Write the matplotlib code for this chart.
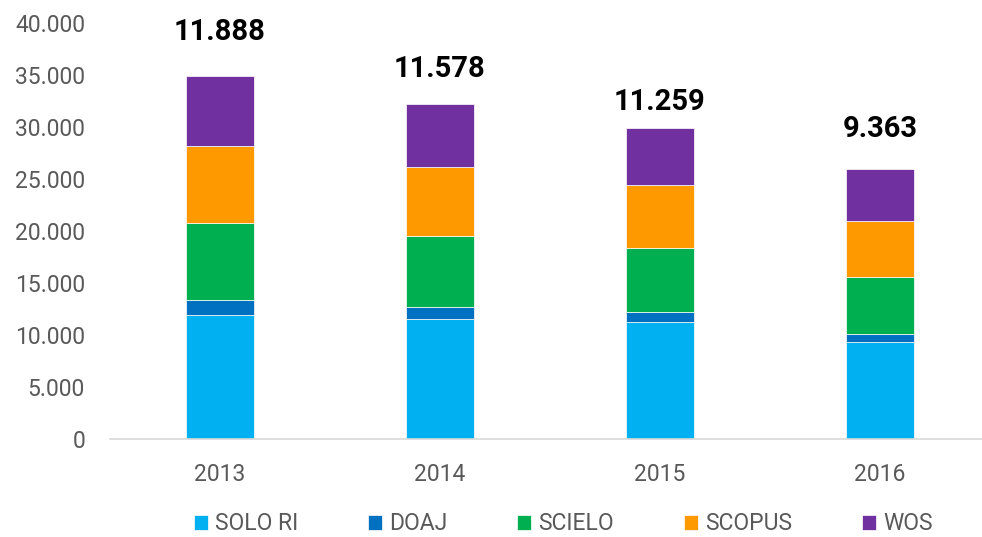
import matplotlib.pyplot as plt
import numpy as np

plt.rcParams['font.family'] = ['Roboto', 'DejaVu Sans']

years = ['2013', '2014', '2015', '2016']
series = ['SOLO RI', 'DOAJ', 'SCIELO', 'SCOPUS', 'WOS']
solo_ri = [11888, 11578, 11259, 9363]
doaj = [1450, 1140, 980, 760]
scielo = [7460, 6830, 6150, 5480]
scopus = [7340, 6600, 6000, 5380]
wos = [6760, 6060, 5510, 5000]
colors = ['#00B0F0', '#0070C0', '#00B050', '#FF9900', '#7030A0']

# heights where the bold totals sit
label_y = [39100, 35600, 32400, 29800]

fig = plt.figure(figsize=(9.82, 5.37), dpi=100)
ax = fig.add_axes([110 / 982, 1 - 439 / 537, 880 / 982, 416 / 537])

x = np.arange(len(years))
bottom = np.zeros(len(years))
for name, vals, col in zip(series, [solo_ri, doaj, scielo, scopus, wos], colors):
    ax.bar(x, vals, width=0.313, bottom=bottom, color=col, label=name,
           edgecolor='#ffffff', linewidth=0.5)
    bottom += np.array(vals)

for i, v in enumerate(solo_ri):
    ax.text(x[i], label_y[i], f'{v:,}'.replace(',', '.'), ha='center', va='center',
            fontsize=21, fontweight='bold', color='black')

ax.set_xlim(-0.5, 3.5)
ax.set_ylim(0, 40000)
ax.set_yticks(np.arange(0, 40001, 5000))
ax.set_yticklabels([f'{int(t):,}'.replace(',', '.') for t in np.arange(0, 40001, 5000)])
ax.set_xticks(x)
ax.set_xticklabels(years)
ax.tick_params(axis='both', length=0, labelsize=16.5, colors='#595959')
ax.tick_params(axis='y', pad=18)
ax.tick_params(axis='x', pad=17)

for s in ['top', 'right', 'left']:
    ax.spines[s].set_visible(False)
ax.spines['bottom'].set_color('#d9d9d9')
ax.spines['bottom'].set_linewidth(1.2)

leg = fig.legend(loc='center', bbox_to_anchor=(563 / 982, 1 - 524 / 537), ncol=5,
                 frameon=False, fontsize=16.5, handlelength=0.62, handleheight=0.62,
                 handletextpad=0.3, columnspacing=3.05, borderpad=0)
for t in leg.get_texts():
    t.set_color('#595959')

fig.savefig('out.png', dpi=100)
